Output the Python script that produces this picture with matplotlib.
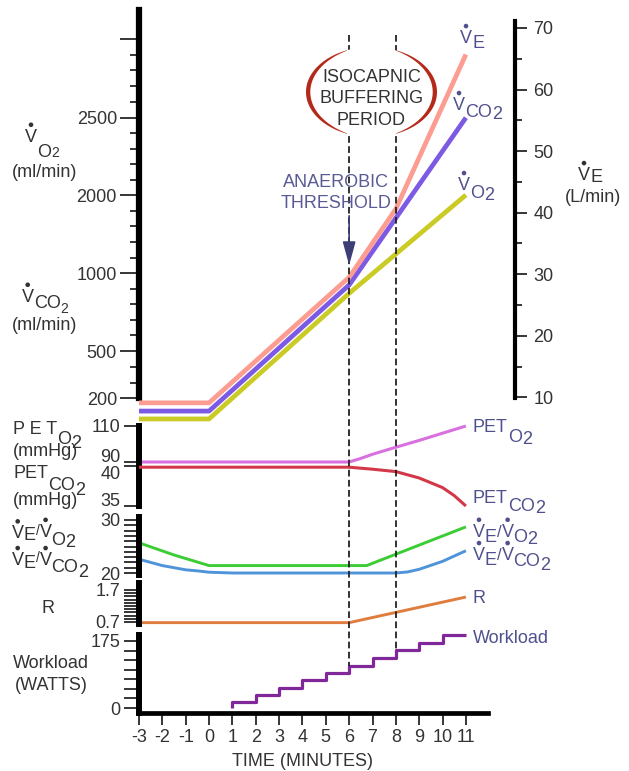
import numpy as np
import matplotlib
matplotlib.use("Agg")
import matplotlib.pyplot as plt
import matplotlib.transforms as mtransforms
from matplotlib.patches import Polygon, Ellipse, Circle, FancyArrowPatch
from matplotlib.lines import Line2D

# ---------------- data ----------------
ve_time = [-3, 0, 6, 8, 11]
ve_lmin = [9.1, 9.1, 29.5, 40.6, 65.7]
vco2_time = [-3, 0, 6, 11]
vco2_mlmin = [119, 119, 925, 2500]
vo2_time = [-3, 0, 6, 11]
vo2_mlmin = [69, 69, 871, 2000]

peto2_time = [-3, 6, 6.5, 7, 8, 9, 10, 11]
peto2_mmhg = [90, 90, 92, 94.3, 98.2, 102, 106, 110]
petco2_time = [-3, 6, 7, 8, 9, 10, 10.5, 11]
petco2_mmhg = [39.85, 39.85, 39.6, 39.3, 38.5, 37.3, 36.3, 35.0]

ve_vo2_time = [-3, -1.5, 0, 6.75, 11]
ve_vo2 = [25.7, 23.4, 21.4, 21.4, 28.7]
ve_vco2_time = [-3, -2, -1, -0.5, 0, 1, 8, 8.5, 9, 10, 11]
ve_vco2 = [22.6, 21.4, 20.6, 20.4, 20.15, 20.0, 20.0, 20.2, 20.7, 22.2, 24.2]

r_time = [-3, 6, 8, 11]
r_vals = [0.68, 0.68, 1.0, 1.48]

work_time = [1, 2, 3, 4, 5, 6, 7, 8, 9, 10]
work_watts = [15, 34, 53, 72, 92, 110, 130, 151, 170, 190]
work_end = 11

threshold_times = [6, 8]

x_ticks = list(range(-3, 12))
x_ticklabels = [str(v) for v in x_ticks]
vo2_major = [200, 500, 1000, 2000, 2500, 3000]
vo2_labels = ['200', '500', '1000', '2000', '2500', '']
vo2_minor = [300, 400, 600, 700, 800, 900, 1200, 1400, 1600, 1800,
             2100, 2200, 2300, 2400, 2600, 2700, 2800, 2900]
ve_major = [10, 20, 30, 40, 50, 60, 70]
ve_minor = [15, 25, 35, 45, 55, 65]
pet_o2_ticks = [90, 110]
pet_co2_ticks = [35, 40]
ratio_ticks = list(range(20, 31))
r_ticks = [round(0.7 + 0.1 * i, 1) for i in range(11)]
work_ticks = list(range(0, 176, 25))

# ---------------- styling ----------------
plt.rcParams['font.family'] = ['Liberation Sans', 'DejaVu Sans']
W, H = 629, 771
fig = plt.figure(figsize=(W / 100, H / 100), dpi=100)
fig.patch.set_facecolor('white')
T_px = mtransforms.Affine2D().scale(1.0 / W, -1.0 / H).translate(0, 1) + fig.transFigure

TXT = '#333333'
LAB = '#50508e'
C_VE = '#fd9c91'
C_VCO2 = '#7d5ae4'
C_VO2 = '#cbcb26'
C_PO2 = '#d870df'
C_PCO2 = '#d23848'
C_G = '#3ccc33'
C_B = '#4f93d8'
C_R = '#e07c3e'
C_W = '#80289a'

XL = 139.0      # pixel of x = -3
SC = 23.35      # pixels per minute


def rect(x0, y0, x1, y1):
    return [x0 / W, 1 - y1 / H, (x1 - x0) / W, (y1 - y0) / H]


def xr(xpix):
    return (-3, -3 + (xpix - XL) / SC)


def base_axes(r, xpix_right):
    ax = fig.add_axes(r)
    ax.set_xlim(*xr(xpix_right))
    ax.patch.set_visible(False)
    for s in ['top', 'right', 'bottom']:
        ax.spines[s].set_visible(False)
    ax.spines['left'].set_linewidth(4.3)
    ax.tick_params(axis='x', bottom=False, labelbottom=False)
    return ax


# ---- top panel: VO2 / VCO2 (left, piecewise scale) and VE (right) ----
anchor_px = np.array([0, 47.3, 125, 203.3, 280.6, 359.3])
anchor_v = np.array(vo2_major, dtype=float)


def fwd(v):
    v = np.asarray(v, dtype=float)
    p = np.interp(v, anchor_v, anchor_px)
    lo = anchor_px[0] + (v - anchor_v[0]) * (anchor_px[1] - anchor_px[0]) / (anchor_v[1] - anchor_v[0])
    hi = anchor_px[-1] + (v - anchor_v[-1]) * (anchor_px[-1] - anchor_px[-2]) / (anchor_v[-1] - anchor_v[-2])
    return np.where(v < anchor_v[0], lo, np.where(v > anchor_v[-1], hi, p))


def inv(p):
    p = np.asarray(p, dtype=float)
    v = np.interp(p, anchor_px, anchor_v)
    lo = anchor_v[0] + (p - anchor_px[0]) * (anchor_v[1] - anchor_v[0]) / (anchor_px[1] - anchor_px[0])
    hi = anchor_v[-1] + (p - anchor_px[-1]) * (anchor_v[-1] - anchor_v[-2]) / (anchor_px[-1] - anchor_px[-2])
    return np.where(p < anchor_px[0], lo, np.where(p > anchor_px[-1], hi, v))


ax_top = base_axes(rect(XL, 10, 515, 398.3), 515)
ax_top.set_yscale('function', functions=(fwd, inv))
ax_top.set_ylim(200, float(inv(388.3)))
ax_top.spines['left'].set_linewidth(4.5)
ax_top.set_yticks(vo2_major)
ax_top.set_yticklabels(vo2_labels)
ax_top.set_yticks(vo2_minor, minor=True)
ax_top.tick_params(axis='y', which='major', length=13.7, width=1.1, pad=2.2,
                   labelsize=13, labelcolor=TXT)
ax_top.tick_params(axis='y', which='minor', length=6.5, width=1.1)

ax_ve = ax_top.twinx()
ax_ve.patch.set_visible(False)
ax_ve.set_ylim(10 - 1.0 / 6.155, 10 + 387.3 / 6.155)
for s in ['top', 'left', 'bottom']:
    ax_ve.spines[s].set_visible(False)
ax_ve.spines['right'].set_linewidth(3.0)
ax_ve.spines['right'].set_bounds(10 - 1.0 / 6.155, 10 + 376.3 / 6.155)
ax_ve.set_yticks(ve_major)
ax_ve.set_yticks(ve_minor, minor=True)
ax_ve.tick_params(axis='y', which='major', length=8.6, width=1.1, pad=4.5,
                  labelsize=13, labelcolor=TXT)
ax_ve.tick_params(axis='y', which='minor', length=5.0, width=1.1)

lw_top = 3.4
ax_top.plot(vo2_time, vo2_mlmin, color=C_VO2, lw=lw_top, clip_on=False, solid_capstyle='butt', zorder=3)
ax_top.plot(vco2_time, vco2_mlmin, color=C_VCO2, lw=lw_top, clip_on=False, solid_capstyle='butt', zorder=4)
ax_ve.plot(ve_time, ve_lmin, color=C_VE, lw=lw_top, clip_on=False, solid_capstyle='butt', zorder=5)

# ---- PET panel ----
ax_pet = base_axes(rect(XL, 426, 488, 506), 488)
ax_pet.set_ylim(90 - 44 / 1.8, 110)
ax_pet.set_yticks(pet_o2_ticks)
ax_pet.tick_params(axis='y', length=10.8, width=1.1, pad=2.5, labelsize=13, labelcolor=TXT)
ax_pet.plot(peto2_time, peto2_mmhg, color=C_PO2, lw=2.2, clip_on=False, solid_capstyle='butt')
for lab, tv in zip(ax_pet.get_yticklabels(), pet_o2_ticks):
    if tv == 90:
        lab.set_verticalalignment('baseline')

ax_pc = fig.add_axes(rect(XL, 426, 488, 506))
ax_pc.set_xlim(*xr(488))
ax_pc.patch.set_visible(False)
for s in ax_pc.spines.values():
    s.set_visible(False)
ax_pc.set_ylim(35, 45)
ax_pc.set_yticks(pet_co2_ticks)
ax_pc.tick_params(axis='x', bottom=False, labelbottom=False)
ax_pc.tick_params(axis='y', length=10.8, width=1.1, pad=2.5, labelsize=13, labelcolor=TXT)
ax_pc.plot(petco2_time, petco2_mmhg, color=C_PCO2, lw=2.2, clip_on=False, solid_capstyle='butt')
for lab, tv in zip(ax_pc.get_yticklabels(), pet_co2_ticks):
    if tv == 40:
        lab.set_verticalalignment('top')
    else:
        lab.set_verticalalignment('baseline')

# ---- VE/VO2, VE/VCO2 panel ----
ax_rat = base_axes(rect(XL, 517, 488, 575), 488)
ax_rat.set_ylim(20 - 2 / 5.3, 30 + 3 / 5.3)
ax_rat.set_yticks(ratio_ticks)
ax_rat.set_yticklabels([str(t) if t in (20, 30) else '' for t in ratio_ticks])
ax_rat.tick_params(axis='y', length=10.8, width=1.1, pad=2.5, labelsize=13, labelcolor=TXT)
ax_rat.plot(ve_vo2_time, ve_vo2, color=C_G, lw=2.1, clip_on=False, solid_capstyle='butt')
ax_rat.plot(ve_vco2_time, ve_vco2, color=C_B, lw=2.1, clip_on=False, solid_capstyle='butt')

# ---- R panel ----
ax_r = base_axes(rect(XL, 583, 488, 624), 488)
ax_r.set_ylim(0.7 - 2 / 32, 1.7 + 7 / 32)
ax_r.set_yticks(r_ticks)
ax_r.set_yticklabels([('%.1f' % t) if t in (0.7, 1.7) else '' for t in r_ticks])
ax_r.tick_params(axis='y', length=10.8, width=1.1, pad=2.5, labelsize=13, labelcolor=TXT)
ax_r.plot(r_time, r_vals, color=C_R, lw=2.1, clip_on=False, solid_capstyle='butt')

# ---- Workload panel + time axis ----
ax_w = base_axes(rect(XL, 635, 488, 713), 488)
ax_w.spines['bottom'].set_visible(True)
ax_w.spines['bottom'].set_linewidth(3.4)
ax_w.set_ylim(-5 / 0.383, 175 + 6 / 0.383)
ax_w.set_yticks(work_ticks)
ax_w.set_yticklabels([str(t) if t in (0, 175) else '' for t in work_ticks])
ax_w.tick_params(axis='y', length=10.8, width=1.1, pad=2.5, labelsize=13, labelcolor=TXT)
ax_w.set_xticks(x_ticks)
ax_w.set_xticklabels(x_ticklabels)
ax_w.tick_params(axis='x', bottom=True, labelbottom=True, length=8.4, width=1.1,
                 pad=3, labelsize=13, labelcolor=TXT)
wx = [work_time[0]] + work_time + [work_end]
wy = [0] + work_watts + [work_watts[-1]]
ax_w.plot(wx, wy, drawstyle='steps-post', color=C_W, lw=2.3, clip_on=False, solid_capstyle='butt')

blend_x = mtransforms.blended_transform_factory(ax_w.transData, T_px)
fig.text(4, 766, 'TIME (MINUTES)', transform=blend_x, ha='center', va='baseline',
         fontsize=13, color=TXT)

# ---- threshold dashed lines ----
for tv in threshold_times:
    lvl = work_watts[work_time.index(tv)]
    ybot = H - ax_w.transData.transform((tv, lvl))[1]
    fig.add_artist(Line2D([tv, tv], [35, ybot], transform=blend_x, color='#222222',
                          lw=1.3, linestyle=(0, (3.7, 1.9)), zorder=5))

# ---- isocapnic buffering ellipse ----
cx = ax_w.transData.transform((np.mean(threshold_times), 0))[0] - 1
cy, ea, eb = 92.0, 65.5, 45.0
fig.add_artist(Ellipse((cx, cy), 2 * ea, 2 * eb, transform=T_px, facecolor='white',
                       edgecolor='none', zorder=6))
for tc in (180.0, 0.0):
    t = np.radians(np.linspace(tc - 68, tc + 68, 80))
    u = (np.degrees(t) - tc) / 68.0
    w = 0.5 + 3.8 * (1 - u ** 2)
    outer = np.column_stack([cx + ea * np.cos(t), cy - eb * np.sin(t)])
    inner = np.column_stack([cx + (ea - w) * np.cos(t), cy - (eb - w * 0.8) * np.sin(t)])
    fig.add_artist(Polygon(np.vstack([outer, inner[::-1]]), closed=True, transform=T_px,
                           facecolor='#b42a1a', edgecolor='none', zorder=7))
for txt, yb in (('ISOCAPNIC', 81.7), ('BUFFERING', 103.3), ('PERIOD', 125.0)):
    fig.text(cx, yb, txt, transform=T_px, ha='center', va='baseline', fontsize=13,
             color=TXT, zorder=8)

# ---- anaerobic threshold ----
x6 = ax_w.transData.transform((threshold_times[0], 0))[0]
fig.text(336, 187, 'ANAEROBIC', transform=T_px, ha='center', va='baseline', fontsize=13,
         color='#5a5a95', zorder=8)
fig.text(336, 208, 'THRESHOLD', transform=T_px, ha='center', va='baseline', fontsize=13,
         color='#5a5a95', zorder=8)
fig.add_artist(FancyArrowPatch((x6, 213), (x6, 268), transform=T_px,
                               arrowstyle='-|>,head_length=0.8,head_width=0.22',
                               mutation_scale=18, color='#3d3d78', lw=1.2, zorder=8))

# ---------------- rich labels ----------------
renderer = fig.canvas.get_renderer()


def rich(x, y, segs, color):
    made = []
    for seg in segs:
        s, dy, size = seg[0], seg[1], seg[2]
        dot = len(seg) > 3 and seg[3]
        t = fig.text(x, y, s, transform=T_px, fontsize=size, color=color,
                     va='baseline', ha='left', zorder=8)
        wdt = t.get_window_extent(renderer).width
        made.append((t, dy, wdt, dot, size))
    cxp = x
    for t, dy, wdt, dot, size in made:
        t.set_position((cxp, y + dy))
        if dot:
            cap = 0.716 * size * 100 / 72
            fig.add_artist(Circle((cxp + wdt / 2, y + dy - cap - 4.0), 1.6, transform=T_px,
                                  color=color, zorder=8))
        cxp += wdt


# right-hand labels
rich(460, 43, [('V', 0, 13, True), ('E', 5, 13)], LAB)
rich(453, 110, [('V', 0, 13, True), ('CO', 7, 13), ('2', 9, 13)], LAB)
rich(458, 190, [('V', 0, 13, True), ('O', 8, 13), ('2', 10, 13)], LAB)
rich(473, 432, [('PET', 0, 13), ('O', 10, 13), ('2', 12, 13)], LAB)
rich(473, 503.3, [('PET', 0, 13), ('CO', 8, 13), ('2', 10, 13)], LAB)
rich(473, 536.7, [('V', 0, 13, True), ('E', 5, 13), ('/', 0, 12), ('V', 0, 13, True),
                  ('O', 5, 13), ('2', 7, 13)], LAB)
rich(473, 560, [('V', 0, 13, True), ('E', 5, 13), ('/', 0, 12), ('V', 0, 13, True),
                ('CO', 6.5, 13), ('2', 10, 13)], LAB)
fig.text(473, 603.3, 'R', transform=T_px, fontsize=13, color=LAB, va='baseline')
fig.text(473, 642.7, 'Workload', transform=T_px, fontsize=13, color=LAB, va='baseline')

# right axis title
rich(578, 180, [('V', 0, 13, True), ('E', 2, 13)], TXT)
fig.text(592.5, 202, '(L/min)', transform=T_px, fontsize=13, color=TXT, va='baseline', ha='center')

# left labels
rich(25, 141.7, [('V', 0, 13, True), ('O', 15, 13), ('2', 15, 10)], TXT)
fig.text(45, 176.7, '(ml/min)', transform=T_px, fontsize=13, color=TXT, va='baseline', ha='center')
rich(21.7, 301.7, [('V', 0, 13, True), ('CO', 6.6, 13), ('2', 11.6, 10)], TXT)
fig.text(45, 330, '(ml/min)', transform=T_px, fontsize=13, color=TXT, va='baseline', ha='center')
rich(13.3, 434.3, [('P E T', 0, 13), ('O', 10.0, 13), ('2', 13.5, 13)], TXT)
fig.text(13.3, 456, '(mmHg)', transform=T_px, fontsize=13, color=TXT, va='baseline')
rich(13.3, 478.3, [('PET', 0, 13), ('CO', 11.7, 13), ('2', 16.7, 13)], TXT)
fig.text(13.3, 505, '(mmHg)', transform=T_px, fontsize=13, color=TXT, va='baseline')
rich(11.7, 538.3, [('V', 0, 13, True), ('E', 2, 13), ('/', -3, 10), ('V', -1.5, 13, True),
                   ('O', 7, 13), ('2', 8.4, 13)], TXT)
rich(11.7, 565, [('V', 0, 13, True), ('E', 3.3, 13), ('/', -3, 10), ('V', 0, 13, True),
                 ('CO', 6.7, 13), ('2', 11.7, 13)], TXT)
fig.text(48, 613, 'R', transform=T_px, fontsize=13, color=TXT, va='baseline', ha='center')
fig.text(13.3, 668.3, 'Workload', transform=T_px, fontsize=13, color=TXT, va='baseline')
fig.text(15, 690, '(WATTS)', transform=T_px, fontsize=13, color=TXT, va='baseline')

fig.savefig('out.png', dpi=100, facecolor='white')
